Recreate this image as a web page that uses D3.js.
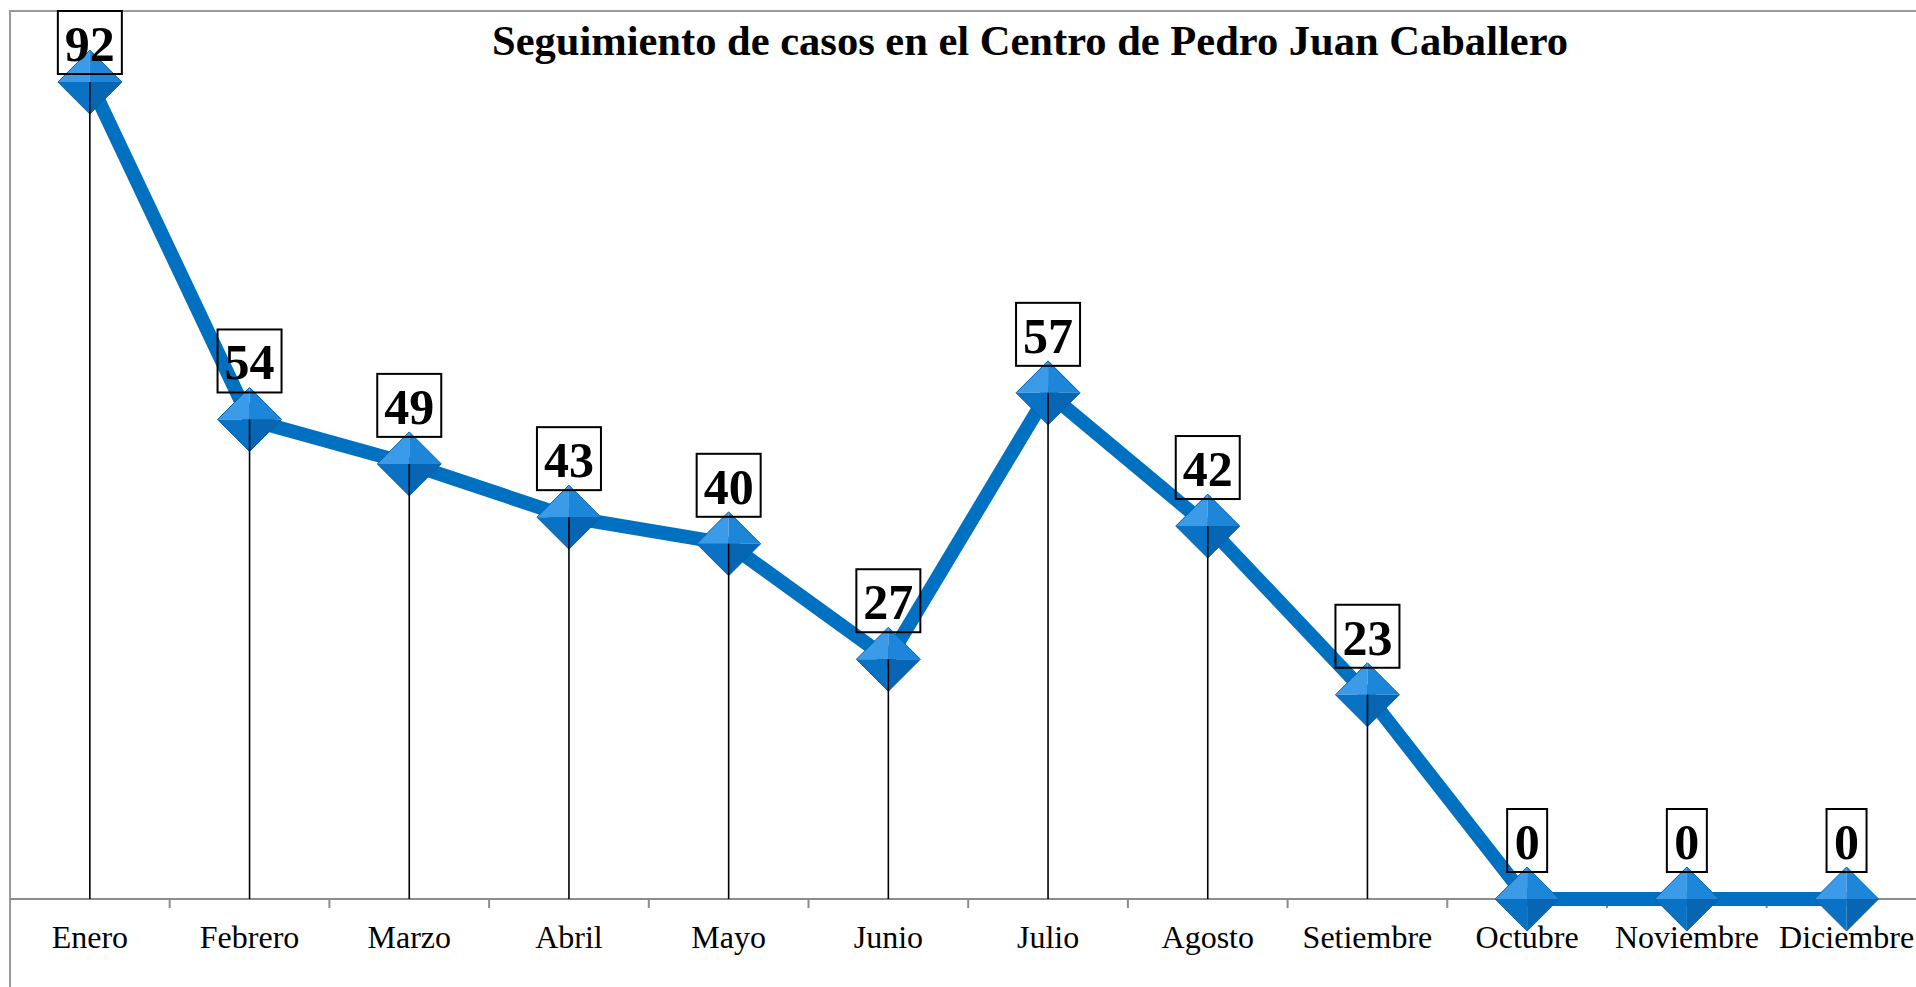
<!DOCTYPE html>
<html>
<head>
<meta charset="utf-8">
<script src="https://cdn.jsdelivr.net/npm/d3@7"></script>
<style>
  body { margin: 0; background: #fff; }
  svg { display: block; }
</style>
</head>
<body>
<div id="chart"></div>
<script>
// data
var months = ["Enero", "Febrero", "Marzo", "Abril", "Mayo", "Junio", "Julio",
              "Agosto", "Setiembre", "Octubre", "Noviembre", "Diciembre"];
var casos = [92, 54, 49, 43, 40, 27, 57, 42, 23, 0, 0, 0];
var titleText = "Seguimiento de casos en el Centro de Pedro Juan Caballero";

var W = 1916, H = 987;
var plot = {left: 10, top: 11, bottom: 899, band: 159.7};

var svg = d3.select("#chart")
  .append("svg")
    .attr("width", W)
    .attr("height", H);

svg.append("rect")
  .attr("width", W).attr("height", H)
  .attr("fill", "#fff");

// chart border (runs off the right and bottom edge)
svg.append("rect")
  .attr("x", plot.left).attr("y", plot.top)
  .attr("width", W + 40).attr("height", H + 40)
  .attr("fill", "none")
  .attr("stroke", "#9a9a9a")
  .attr("stroke-width", 2);

var x = d3.scaleBand()
  .domain(months)
  .range([plot.left, plot.left + plot.band * months.length]);

var y = d3.scaleLinear()
  .domain([0, 100])
  .range([plot.bottom, plot.top]);

var cx = function(d, i) { return x(months[i]) + x.bandwidth() / 2; };

// X axis: labels at band centres, ticks at band edges
var xAxis = svg.append("g")
  .attr("transform", "translate(0," + plot.bottom + ")")
  .call(d3.axisBottom(x).tickSize(0).tickPadding(0));
xAxis.select(".domain").remove();
xAxis.selectAll("text")
  .attr("y", 49)
  .attr("dy", 0)
  .attr("font-family", "'Liberation Serif', 'Times New Roman', serif")
  .attr("font-size", 32)
  .attr("fill", "#000");

svg.append("line")
  .attr("x1", plot.left).attr("x2", W)
  .attr("y1", plot.bottom).attr("y2", plot.bottom)
  .attr("stroke", "#8c8c8c")
  .attr("stroke-width", 2);

svg.selectAll("tickmark")
  .data(months.slice(1))
  .enter()
  .append("line")
    .attr("x1", function(d) { return x(d); })
    .attr("x2", function(d) { return x(d); })
    .attr("y1", plot.bottom)
    .attr("y2", plot.bottom + 9)
    .attr("stroke", "#8c8c8c")
    .attr("stroke-width", 2);

// title
svg.append("text")
  .attr("x", 492)
  .attr("y", 55)
  .attr("textLength", 1076)
  .attr("lengthAdjust", "spacingAndGlyphs")
  .attr("font-family", "'Liberation Serif', 'Times New Roman', serif")
  .attr("font-weight", "bold")
  .attr("font-size", 43)
  .text(titleText);

// the series line
svg.append("path")
  .datum(casos)
  .attr("fill", "none")
  .attr("stroke", "#0070c0")
  .attr("stroke-width", 14)
  .attr("stroke-linejoin", "round")
  .attr("d", d3.line()
    .x(cx)
    .y(function(d) { return y(d); }));

// diamond markers, four shaded facets each
var r = 32;
var facets = [
  {c: "#3b9be8", p: function(a, b) { return [[a, b], [a - r, b], [a, b - r]]; }},
  {c: "#1e86d9", p: function(a, b) { return [[a, b], [a, b - r], [a + r, b]]; }},
  {c: "#0a72c4", p: function(a, b) { return [[a, b], [a - r, b], [a, b + r]]; }},
  {c: "#0666b4", p: function(a, b) { return [[a, b], [a + r, b], [a, b + r]]; }}
];

var markers = svg.selectAll("marker-g")
  .data(casos)
  .enter()
  .append("g");

facets.forEach(function(f) {
  markers.append("path")
    .attr("fill", f.c)
    .attr("d", function(d, i) {
      return "M" + f.p(cx(d, i), y(d)).join("L") + "Z";
    });
});
markers.append("path")
  .attr("fill", "none")
  .attr("stroke", "#0a5fa3")
  .attr("stroke-width", 1)
  .attr("d", function(d, i) {
    var a = cx(d, i), b = y(d);
    return "M" + [[a - r, b], [a, b - r], [a + r, b], [a, b + r]].join("L") + "Z";
  });

// drop lines down to the axis
svg.selectAll("dropline")
  .data(casos)
  .enter()
  .append("line")
    .attr("x1", cx).attr("x2", cx)
    .attr("y1", function(d) { return y(d); })
    .attr("y2", plot.bottom)
    .attr("stroke", "#000")
    .attr("stroke-width", 1.6);

// data labels in boxes
var boxH = 63;
var labels = svg.selectAll("lbl")
  .data(casos)
  .enter()
  .append("g")
    .attr("transform", function(d, i) {
      var top = Math.max(y(d) - 27 - boxH, plot.top);
      return "translate(" + cx(d, i) + "," + top + ")";
    });

labels.append("rect")
  .attr("x", function(d) { return -(String(d).length * 24 + 16) / 2; })
  .attr("width", function(d) { return String(d).length * 24 + 16; })
  .attr("height", boxH)
  .attr("fill", "none")
  .attr("stroke", "#000")
  .attr("stroke-width", 2);

labels.append("text")
  .attr("text-anchor", "middle")
  .attr("y", boxH - 13)
  .attr("font-family", "'Liberation Serif', 'Times New Roman', serif")
  .attr("font-weight", "bold")
  .attr("font-size", 50)
  .text(function(d) { return d; });
</script>
</body>
</html>
